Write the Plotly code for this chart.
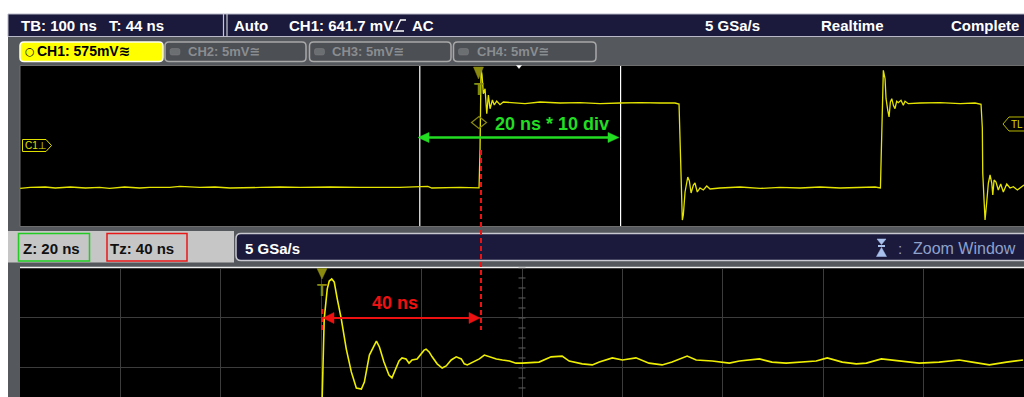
import numpy as np
import plotly.graph_objects as go

W, H = 1024, 397

# ---------------- data ----------------
# Main acquisition: time relative to trigger [ns], CH1 voltage [mV]
main_t = [-458, -448, -433, -423, -408, -393, -379, -369, -354, -339, -329, -309, -299,
          -279, -264, -249, -219, -199, -179, -149, -120, -80, -52, -48, -20, -2,
          -1, 0, 0.5, 1.0, 2.0, 3.3, 5.0, 6.7, 8.3, 10.0, 12.3, 14.2, 16.6, 19.9, 23.2,
          29.9, 44.8, 59.8, 79.7, 99.6, 119.5, 139.4, 159.4, 179.3, 194.2,
          198.2, 199.2, 200.2, 201.5, 202.5, 204.2, 206.9, 208.5, 210.2, 212.5, 214.1,
          216.4, 219.1, 222.4, 225.8, 229.1,
          239, 259, 279, 298.8, 318.7, 338.6, 358.6, 378.5, 393.4,
          398.8, 399.6, 400.4, 401.7, 403.4, 404.4, 406.1, 407.4, 408.7, 410.1, 411.7,
          413.3, 415.0, 416.6, 419.3, 421.6, 423.3, 426.6,
          438.2, 458.2, 478.1, 493.0,
          499.0, 500.3, 500.7, 502.0, 503.0, 504.7, 506.3, 508.0, 509.7, 510.7, 512.0,
          513.9, 516.2, 518.6, 521.2, 524.6, 527.9, 531.2, 535.2, 539.5, 541.8]
main_v = [-304, -297, -294, -301, -294, -301, -297, -304, -294, -301, -297, -297, -290,
          -297, -294, -301, -297, -294, -297, -294, -297, -297, -290, -301, -297, -298,
          -300, -35, 315, 532, 490, 359, 394, 219, 350, 254, 315, 280, 308, 282, 301,
          297, 290, 301, 294, 297, 290, 294, 297, 294, 294,
          287, 84, -231, -525, -490, -329, -224, -252, -336, -280, -266,
          -329, -301, -315, -287, -308,
          -301, -294, -304, -297, -301, -294, -301, -297, -294,
          -301, -35, 315, 523, 464, 324, 243, 196, 301, 324, 278,
          254, 306, 296, 313, 278, 306, 289,
          294, 297, 290, 294,
          285, 119, -196, -420, -525, -399, -266, -210, -266, -350, -245,
          -259, -315, -273, -329, -273, -301, -292, -315, -292, -280]

# Zoom window (20 ns/div): time [ns], CH1 voltage [mV]
zoom_t = [-60, -0.2, 0.2, 0.6, 1.2, 1.6, 2.1, 2.6, 3.2, 4.0, 5.0, 6.0, 7.0, 8.0, 8.6, 9.6,
          11.0, 11.6, 12.5, 13.5, 14.1, 14.9, 15.5, 16.1, 16.9, 17.5, 18.1, 19.1, 19.9,
          20.5, 20.9, 21.5, 22.1, 23.1, 24.1, 24.9, 25.9, 26.9, 27.9, 28.5, 29.1, 30.1,
          31.5, 32.5, 33.5, 34.9, 36.1, 37.5, 38.8, 40.0, 43.4, 45.8, 48.0, 49.4, 52.0,
          54.0, 55.4, 58.0, 60.0, 62.7, 65.3, 67.9, 69.9, 72.9, 74.7, 77.9, 81.3, 83.3,
          87.3, 89.8, 92.6, 95.2, 98.6, 100.8, 103.8, 106.6, 108.6, 111.6, 115.1, 119.1,
          123.1, 127.1, 129.7, 133.1, 136.5, 139.8]
zoom_v = [-297, -297, 188, 411, 496, 519, 525, 516, 468, 411, 325, 260, 214, 211, 231, 308,
          348, 331, 288, 251, 243, 268, 291, 300, 297, 285, 294, 297, 311,
          322, 325, 317, 303, 283, 271, 277, 294, 303, 297, 283, 280, 288,
          297, 308, 303, 297, 294, 291, 285, 285, 288, 303, 305, 291, 283,
          280, 288, 300, 294, 300, 285, 280, 288, 305, 294, 291, 285, 291,
          297, 288, 285, 288, 291, 300, 288, 283, 285, 297, 291, 285,
          288, 294, 288, 280, 288, 294]

main_range_t = [-458.2, 541.8]      # 100 ns/div, T = 44 ns
main_range_v = [-567, 553]
zoom_range_t = [-60, 140]           # Z = 20 ns/div
zoom_range_v = [188.5, 557.6]
zoom_grid_v0, zoom_grid_dv = 271.2, 142.5

header_left = ["TB: 100 ns", "T: 44 ns", "Auto", "CH1: 641.7 mV", "AC"]
header_right = ["5 GSa/s", "Realtime", "Complete"]
tabs = ["CH1: 575mV≋", "CH2: 5mV≅", "CH3: 5mV≅", "CH4: 5mV≅"]

# ---------------- helpers (pixel -> paper) ----------------
def X(p):
    return p / W

def Y(p):
    return 1 - p / H

shapes, annotations = [], []
FONT = "Liberation Sans, Arial, DejaVu Sans"

def rect(x0, y0, x1, y1, fill, line=None, lw=0, layer="below"):
    shapes.append(dict(type="rect", xref="paper", yref="paper", x0=X(x0), x1=X(x1),
                       y0=Y(y1), y1=Y(y0), fillcolor=fill,
                       line=dict(color=line or fill, width=lw), layer=layer))

def seg(x0, y0, x1, y1, color, w=1, dash="solid", layer="above"):
    shapes.append(dict(type="line", xref="paper", yref="paper", x0=X(x0), x1=X(x1),
                       y0=Y(y0), y1=Y(y1), line=dict(color=color, width=w, dash=dash),
                       layer=layer))

def poly(pts, fill="rgba(0,0,0,0)", line=None, lw=0, layer="above", closed=True):
    d = "M " + " L ".join(f"{X(x):.5f},{Y(y):.5f}" for x, y in pts) + (" Z" if closed else "")
    shapes.append(dict(type="path", xref="paper", yref="paper", path=d, fillcolor=fill,
                       line=dict(color=line or fill, width=lw), layer=layer))

def rrect(x0, y0, x1, y1, r, fill, line, lw=1, layer="below"):
    P = lambda x, y: f"{X(x):.5f},{Y(y):.5f}"
    d = (f"M {P(x0+r,y0)} L {P(x1-r,y0)} Q {P(x1,y0)} {P(x1,y0+r)} L {P(x1,y1-r)} "
         f"Q {P(x1,y1)} {P(x1-r,y1)} L {P(x0+r,y1)} Q {P(x0,y1)} {P(x0,y1-r)} "
         f"L {P(x0,y0+r)} Q {P(x0,y0)} {P(x0+r,y0)} Z")
    shapes.append(dict(type="path", xref="paper", yref="paper", path=d, fillcolor=fill,
                       line=dict(color=line, width=lw), layer=layer))

def txt(x, y, s, size=15, color="white", anchor="left", bold=True, family=FONT):
    annotations.append(dict(xref="paper", yref="paper", x=X(x), y=Y(y),
                            text=(f"<b>{s}</b>" if bold else s), showarrow=False,
                            xanchor=anchor, yanchor="middle", borderpad=0,
                            font=dict(size=size, color=color, family=family)))

# ---------------- background frame ----------------
rect(8, 36, 1030, 400, "#55585d")
rect(8, 14, 1030, 36.5, "#1b1a3c", "#b8b8c8", 1)
seg(223.5, 14, 223.5, 36.5, "#c8c8d0", 1.2, layer="below")
seg(227, 14, 227, 36.5, "#c8c8d0", 1.2, layer="below")

# channel tabs
rrect(20, 42, 163, 61.5, 4, "#ffff00", "#fffff0", 1.5)
for x0, x1 in [(165, 306), (309.5, 451), (453.5, 596)]:
    rrect(x0, 42, x1, 61.5, 4, "#4c4f54", "#a8a8a8", 1.5)
    rrect(x0 + 5, 48.5, x0 + 15, 55, 2, "#6c6f72", "#7c7f82", 0.5)

# upper display
rect(20, 65.5, 1030, 226.5, "#000000", "#6e6e6e", 1)

# zoom info bar
rect(8, 231, 234, 262.5, "#c6c6c6")
rect(18.5, 233.5, 89.5, 261, "rgba(0,0,0,0)", "#22cc22", 1.5)
rect(107, 233.5, 187, 261, "rgba(0,0,0,0)", "#e81818", 1.5)
rrect(236, 233.5, 1040, 260.5, 5, "#1b1a3c", "#c8c8d0", 1.5)

# lower (zoom) display
rect(20, 267, 1030, 400, "#000000")
seg(20, 267.5, 1030, 267.5, "#f0f0f0", 1.5, layer="below")

# ---------------- texts ----------------
txt(20, 25.7, header_left[0])
txt(108, 25.7, header_left[1])
txt(233, 25.7, header_left[2])
txt(288, 25.7, header_left[3])
poly([(393, 31), (404, 31)], lw=1.5, line="white", closed=False)
poly([(396, 29.5), (400.5, 20), (406, 20)], lw=1.5, line="white", closed=False)
txt(411, 25.7, header_left[4])
txt(704, 25.7, header_right[0])
txt(820, 25.7, header_right[1])
txt(950, 25.7, header_right[2])

txt(24, 51.5, "○", 11, "#000000", bold=False, family="DejaVu Sans")
txt(36, 51.5, tabs[0], 14, "#000000")
txt(187, 51.5, tabs[1], 13, "#8a8d90")
txt(331, 51.5, tabs[2], 13, "#8a8d90")
txt(476, 51.5, tabs[3], 13, "#8a8d90")

txt(22, 248, "Z: 20 ns", 15, "#111111")
txt(109, 248, "Tz: 40 ns", 15, "#111111")
txt(244, 248, "5 GSa/s", 15, "white")
poly([(877, 239), (886, 239), (881.5, 244.5)], fill="#a8c0ec", line="#a8c0ec", lw=0.5)
rect(878, 245, 885, 247, "#a8c0ec", layer="above")
poly([(881.5, 247.5), (876.5, 256.5), (886.5, 256.5)], fill="#a8c0ec", line="#a8c0ec", lw=0.5)
txt(897, 248, ":", 15, "#8ea2cc", bold=False)
txt(912, 248, "Zoom Window", 16, "#8ea2cc", bold=False)

# markers in upper display
poly([(516.5, 65.5), (521.5, 65.5), (519, 68.5)], fill="white", line="white", lw=0.5)
poly([(22.5, 139.5), (46, 139.5), (51.5, 145.5), (46, 151.5), (22.5, 151.5)],
     fill="#000000", line="#e0e000", lw=1)
txt(24, 145.8, "C1⊥", 10, "#e0e000", bold=False)
poly([(1003, 124), (1009, 117), (1030, 117), (1030, 131), (1009, 131)],
     fill="#000000", line="#b8b800", lw=1)
txt(1010, 124.3, "TL", 10, "#d8d800", bold=False)
poly([(473.5, 67), (483.5, 67), (478.5, 79)], fill="#8a8a10", line="#8a8a10", lw=0.5)
txt(478.5, 89.5, "T", 16, "#8a8a10", anchor="center")
poly([(479, 116.5), (486.5, 122.5), (479, 128.5), (471.5, 122.5)], line="#8a8a10", lw=1.2)

# markers in lower display
poly([(317, 268.5), (327, 268.5), (322, 279)], fill="#8a8a10", line="#8a8a10", lw=0.5)
txt(322, 290, "T", 16, "#8a8a10", anchor="center")

# green 200 ns span arrow
GREEN, RED = "#22dd22", "#ee1111"
seg(426, 137.5, 612, 137.5, GREEN, 2.5)
poly([(418, 137.5), (429, 132.5), (429, 142.5)], fill=GREEN, line=GREEN, lw=0.5)
poly([(619, 137.5), (608, 132.5), (608, 142.5)], fill=GREEN, line=GREEN, lw=0.5)
txt(551.5, 123.5, "20 ns * 10 div", 18, GREEN, anchor="center")

# red Tz markers
seg(481, 150, 481, 330, RED, 2, dash="5px,3px")
seg(322, 309, 322, 330, RED, 2, dash="5px,3px")
seg(330, 318, 473, 318, RED, 2)
poly([(323, 318), (334, 312.5), (334, 323.5)], fill=RED, line=RED, lw=0.5)
poly([(480, 318), (469, 312.5), (469, 323.5)], fill=RED, line=RED, lw=0.5)
txt(395, 303, "40 ns", 18, RED, anchor="center")

# zoom window boundaries drawn in the main time base
for tz in zoom_range_t:
    shapes.append(dict(type="line", xref="x", yref="paper", x0=tz, x1=tz,
                       y0=Y(226), y1=Y(66), line=dict(color="white", width=1.2),
                       layer="below"))

# ---------------- figure ----------------
fig = go.Figure()
fig.add_trace(go.Scatter(x=main_t, y=main_v, mode="lines", xaxis="x", yaxis="y",
                         line=dict(color="#e4e400", width=1.3), hoverinfo="skip"))
fig.add_trace(go.Scatter(x=zoom_t, y=zoom_v, mode="lines", xaxis="x2", yaxis="y2",
                         line=dict(color="#eeee00", width=1.6), hoverinfo="skip"))
minor_v = zoom_grid_v0 + zoom_grid_dv / 5 * np.arange(-2, 11)
fig.add_trace(go.Scatter(x=[40] * len(minor_v), y=minor_v, mode="markers",
                         xaxis="x2", yaxis="y2", hoverinfo="skip",
                         marker=dict(symbol="line-ew", size=5,
                                     line=dict(color="#5e5e5e", width=1))))

ax_common = dict(showticklabels=False, zeroline=False, ticks="", showline=False)
fig.update_layout(
    width=W, height=H, margin=dict(l=0, r=0, t=0, b=0),
    paper_bgcolor="white", plot_bgcolor="rgba(0,0,0,0)", showlegend=False,
    hovermode=False,
    xaxis=dict(domain=[X(20), 1], range=main_range_t, anchor="y", showgrid=False,
               **ax_common),
    yaxis=dict(domain=[Y(226), Y(66)], range=main_range_v, anchor="x", showgrid=False,
               **ax_common),
    xaxis2=dict(domain=[X(20), 1], range=zoom_range_t, anchor="y2", showgrid=True,
                tick0=0, dtick=20, gridcolor="#3c3c3c", gridwidth=1, **ax_common),
    yaxis2=dict(domain=[0, Y(267.5)], range=zoom_range_v, anchor="x2", showgrid=True,
                tick0=zoom_grid_v0, dtick=zoom_grid_dv, gridcolor="#3c3c3c", gridwidth=1,
                **ax_common),
    shapes=shapes, annotations=annotations,
)

fig.write_html(
    "out.html",
    config={"displayModeBar": False, "staticPlot": True},
    post_script="document.body.style.margin='0';document.body.style.overflow='hidden';",
)
